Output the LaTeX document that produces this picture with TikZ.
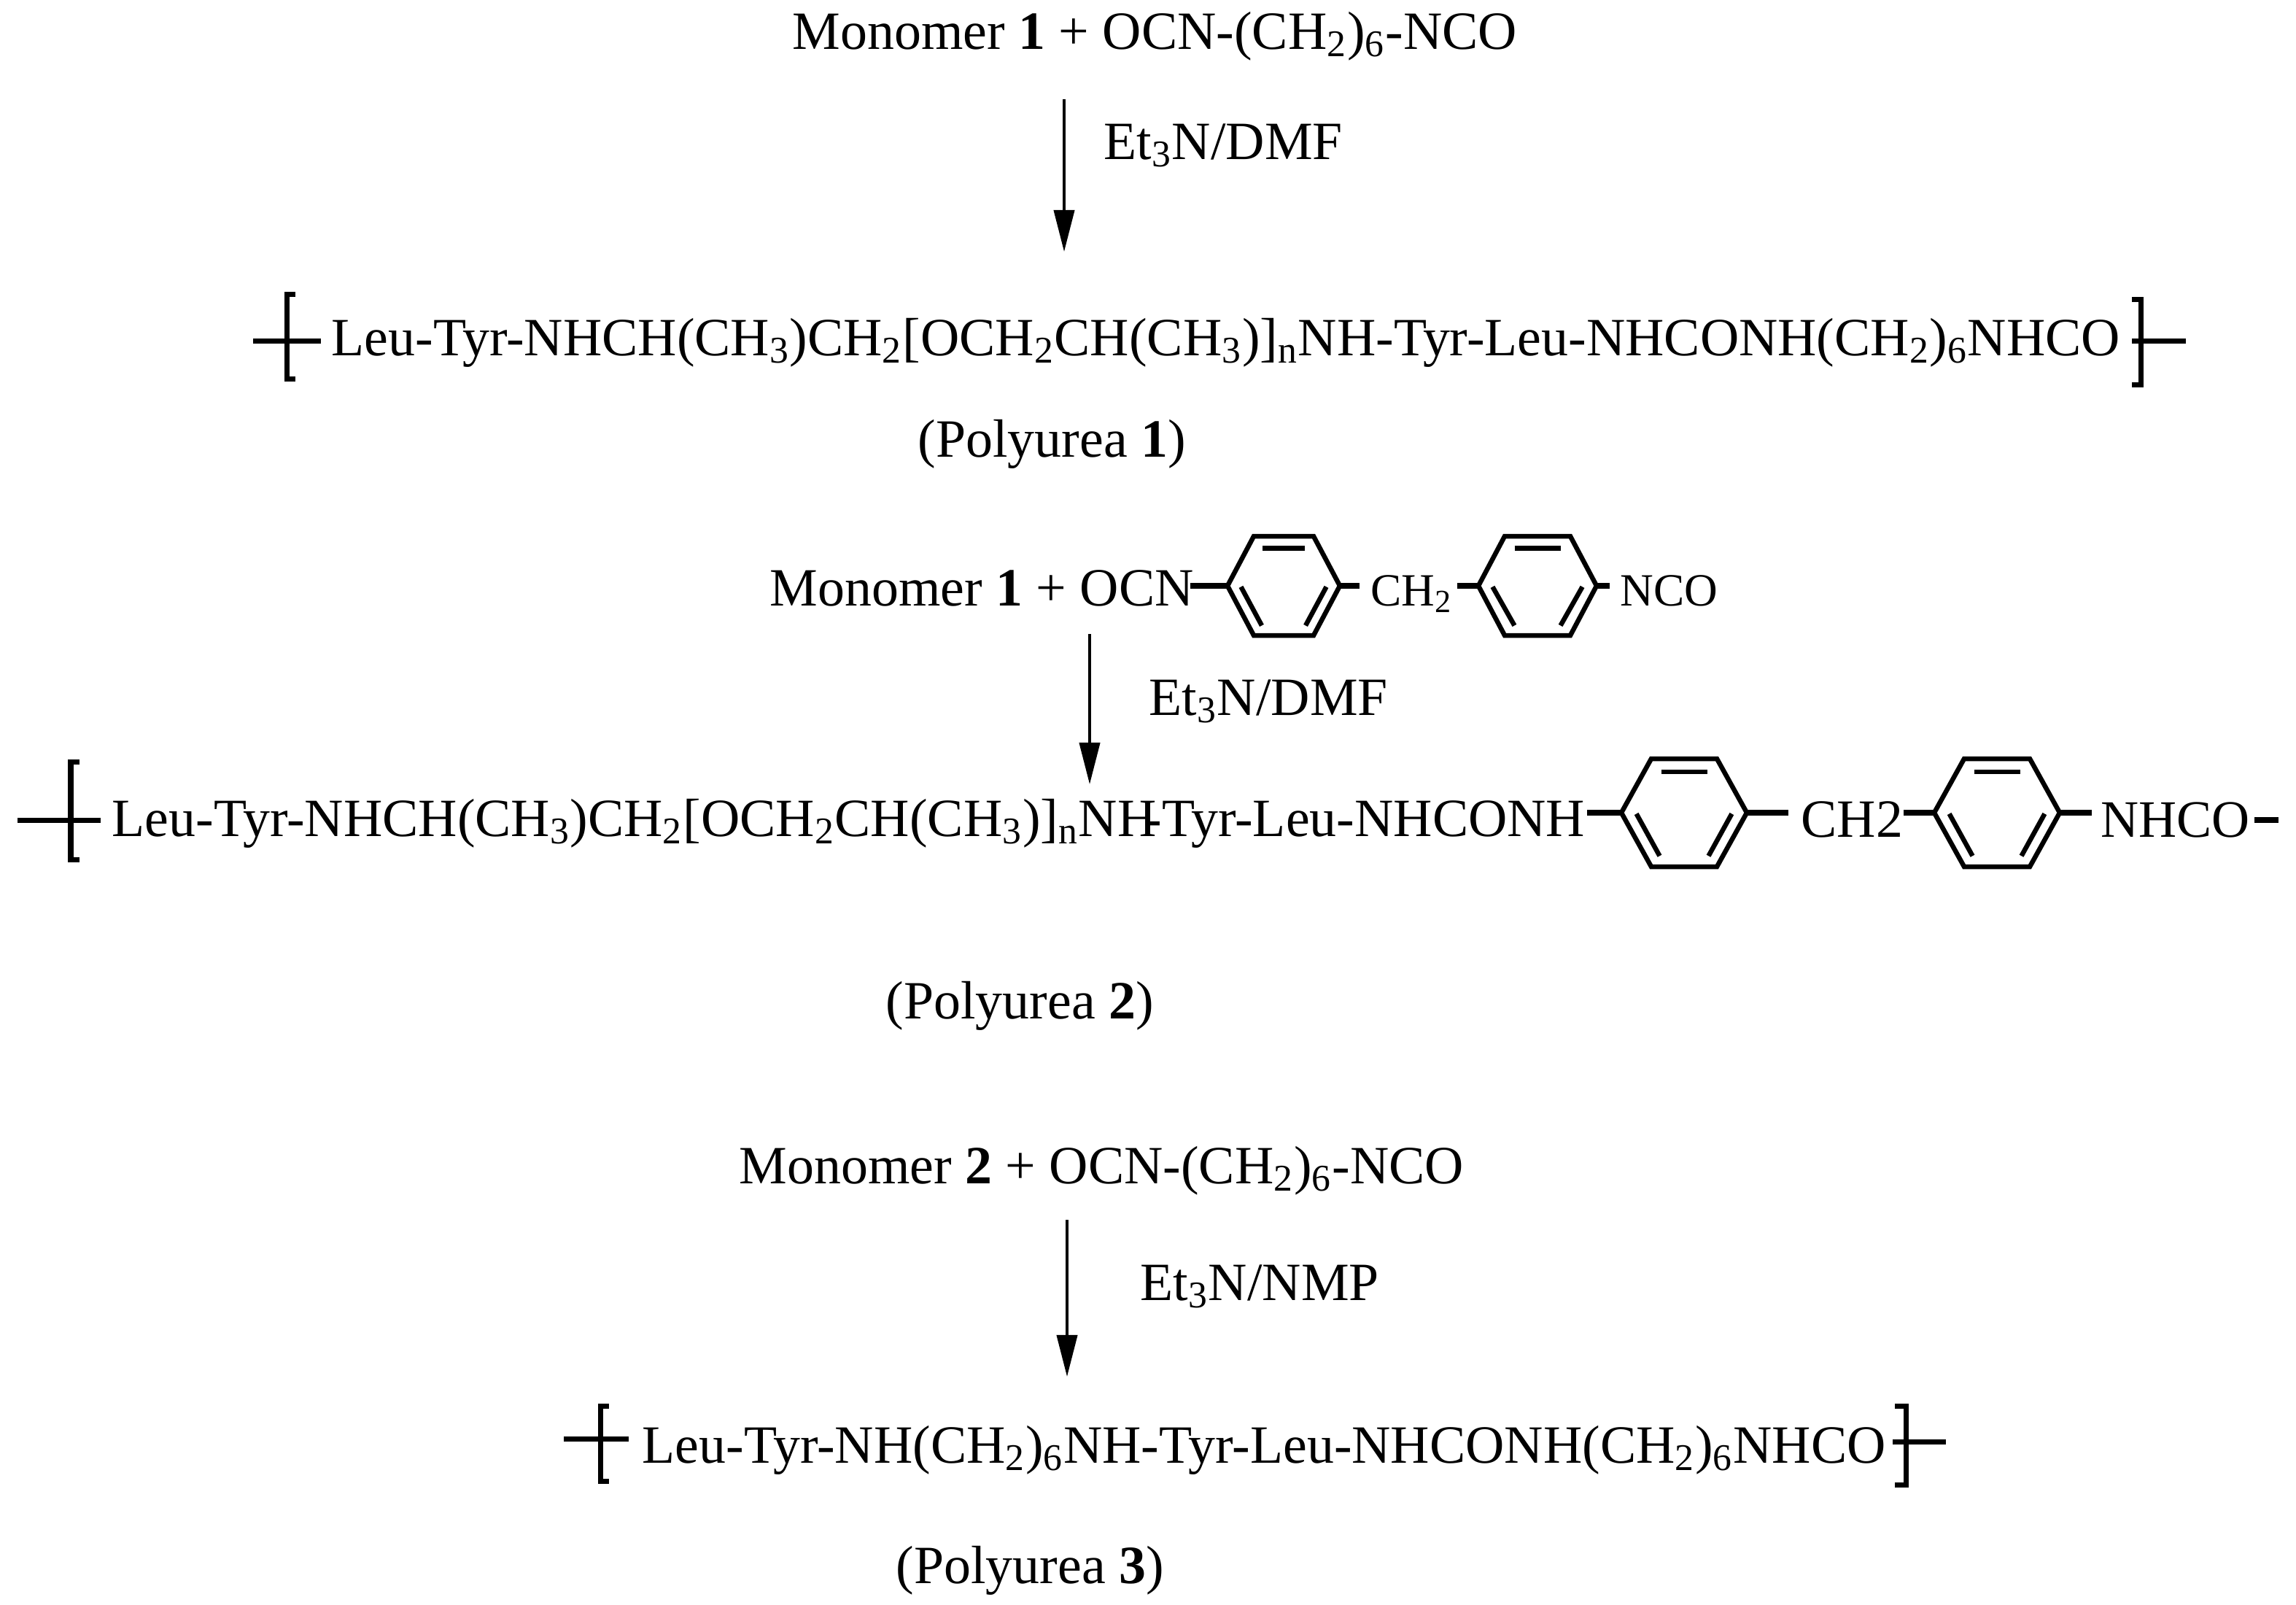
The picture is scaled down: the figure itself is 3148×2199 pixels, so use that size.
\documentclass[tikz,border=0pt]{standalone}
\usepackage{fontspec}
\setmainfont{Liberation Serif}
\usetikzlibrary{arrows.meta}
\tikzstyle{chem}=[font=\fontsize{21}{21}\selectfont,anchor=base west,inner sep=0pt]
\tikzstyle{smallchem}=[font=\fontsize{18}{18}\selectfont,anchor=base west,inner sep=0pt]
\tikzstyle{bond} = [draw,line width=0.8mm]
\tikzstyle{ringbond} = [draw,line width=0.65mm]
\tikzstyle{bracket} = [draw,line width=0.7mm]
\tikzstyle{rxn} = [draw,line width=0.4mm,-{Triangle[length=5.7mm,width=2.8mm]}]
\newcommand{\sub}[1]{\textsubscript{#1}}
\begin{document}
\begin{tikzpicture}[x=0.01cm,y=-0.01cm]
    \useasboundingbox (0,0) rectangle (3148,2199);

    % Reactants and products
    \foreach \pos/\name/\txt in {{(1086,67)/mono1/{Monomer \textbf{1} + OCN-(CH\sub{2})\sub{6}-NCO}},
        {(1513,218)/cond1/{Et\sub{3}N/DMF}},
        {(454,487)/poly1/{Leu-Tyr-NHCH(CH\sub{3})CH\sub{2}[OCH\sub{2}CH(CH\sub{3})]\sub{n}NH-Tyr-Leu-NHCONH(CH\sub{2})\sub{6}NHCO}},
        {(1258,626)/name1/{(Polyurea \textbf{1})}},
        {(1055,830)/mono2/{Monomer \textbf{1} + OCN}},
        {(1575,980)/cond2/{Et\sub{3}N/DMF}},
        {(153,1146)/poly2/{Leu-Tyr-NHCH(CH\sub{3})CH\sub{2}[OCH\sub{2}CH(CH\sub{3})]\sub{n}NH}},
        {(1568,1146)/poly2b/{-Tyr-Leu-NHCONH}},
        {(2469,1147)/link2/{CH2}},
        {(2880,1147)/end2/{\fontsize{20.5}{20.5}\selectfont NHCO}},
        {(1214,1396)/name2/{(Polyurea \textbf{2})}},
        {(1013,1622)/mono3/{Monomer \textbf{2} + OCN-(CH\sub{2})\sub{6}-NCO}},
        {(1563,1782)/cond3/{Et\sub{3}N/NMP}},
        {(880,2005)/poly3/{Leu-Tyr-NH(CH\sub{2})\sub{6}NH-Tyr-Leu-NHCONH(CH\sub{2})\sub{6}NHCO}},
        {(1228,2170)/name3/{(Polyurea \textbf{3})}}}
        \node[chem] (\name) at \pos {\txt};
    \node[smallchem] (link1) at (1879,830) {CH\sub{2}};
    \node[smallchem] (end1) at (2221,830) {NCO};

    % Arrows
    \foreach \name/\xa/\ya/\xb/\yb in {a1/1459/136/1459/345, a2/1494/869/1494/1075, a3/1463/1672/1463/1887} {
        \coordinate (\name s) at (\xa,\ya);
        \coordinate (\name e) at (\xb,\yb);
        \path[rxn] (\name s) -- (\name e);
    }

    % Rings
    \foreach \name/\cx/\cy/\hw/\tw/\hh in {r1/1760/803/77/41/68, r2/2108/803/81/45/68, r3/2309/1114/86/45/74, r4/2738/1114/86/45/74} {
        \coordinate (\name w) at (\cx-\hw,\cy);
        \coordinate (\name e) at (\cx+\hw,\cy);
        \path[ringbond] (\cx-\tw,\cy-\hh) -- (\cx+\tw,\cy-\hh) -- (\name e) -- (\cx+\tw,\cy+\hh) -- (\cx-\tw,\cy+\hh) -- (\name w) -- cycle;
        \path[ringbond] (\cx-0.7*\tw,\cy-0.76*\hh) -- (\cx+0.7*\tw,\cy-0.76*\hh);
        \path[ringbond] (\cx-0.76*\hw,\cy+0.02*\hh) -- (\cx-0.39*\hw,\cy+0.8*\hh);
        \path[ringbond] (\cx+0.76*\hw,\cy+0.02*\hh) -- (\cx+0.39*\hw,\cy+0.8*\hh);
    }

    % Bonds
    \coordinate (b1) at (1632,803);
    \coordinate (b2) at (1864,803);
    \coordinate (b3) at (1998,803);
    \coordinate (b4) at (2207,803);
    \coordinate (b5) at (2176,1114);
    \coordinate (b6) at (2452,1114);
    \coordinate (b7) at (2610,1114);
    \coordinate (b8) at (2868,1114);
    \coordinate (b9) at (3091,1124);
    \coordinate (b10) at (3124,1124);
    \foreach \source/\dest in {b1/r1w, r1e/b2, b3/r2w, r2e/b4, b5/r3w, r3e/b6, b7/r4w, r4e/b8, b9/b10}
        \path[bond] (\source) -- (\dest);

    % Brackets
    \foreach \name/\bx/\tx/\by/\ya/\yb/\la/\lb in {p1l/393/405/467/403/519/347/440, p1r/2935/2923/467/410/527/2923/2997,
        p2l/97/109/1124/1044/1178/24/138, p3l/823/835/1972/1927/2030/773/862, p3r/2613/2598/1976/1927/2035/2595/2668} {
        \coordinate (\name a) at (\la,\by);
        \coordinate (\name b) at (\lb,\by);
        \path[bracket] (\tx,\ya) -- (\bx,\ya) -- (\bx,\yb) -- (\tx,\yb);
        \path[bracket] (\name a) -- (\name b);
    }
\end{tikzpicture}
\end{document}
